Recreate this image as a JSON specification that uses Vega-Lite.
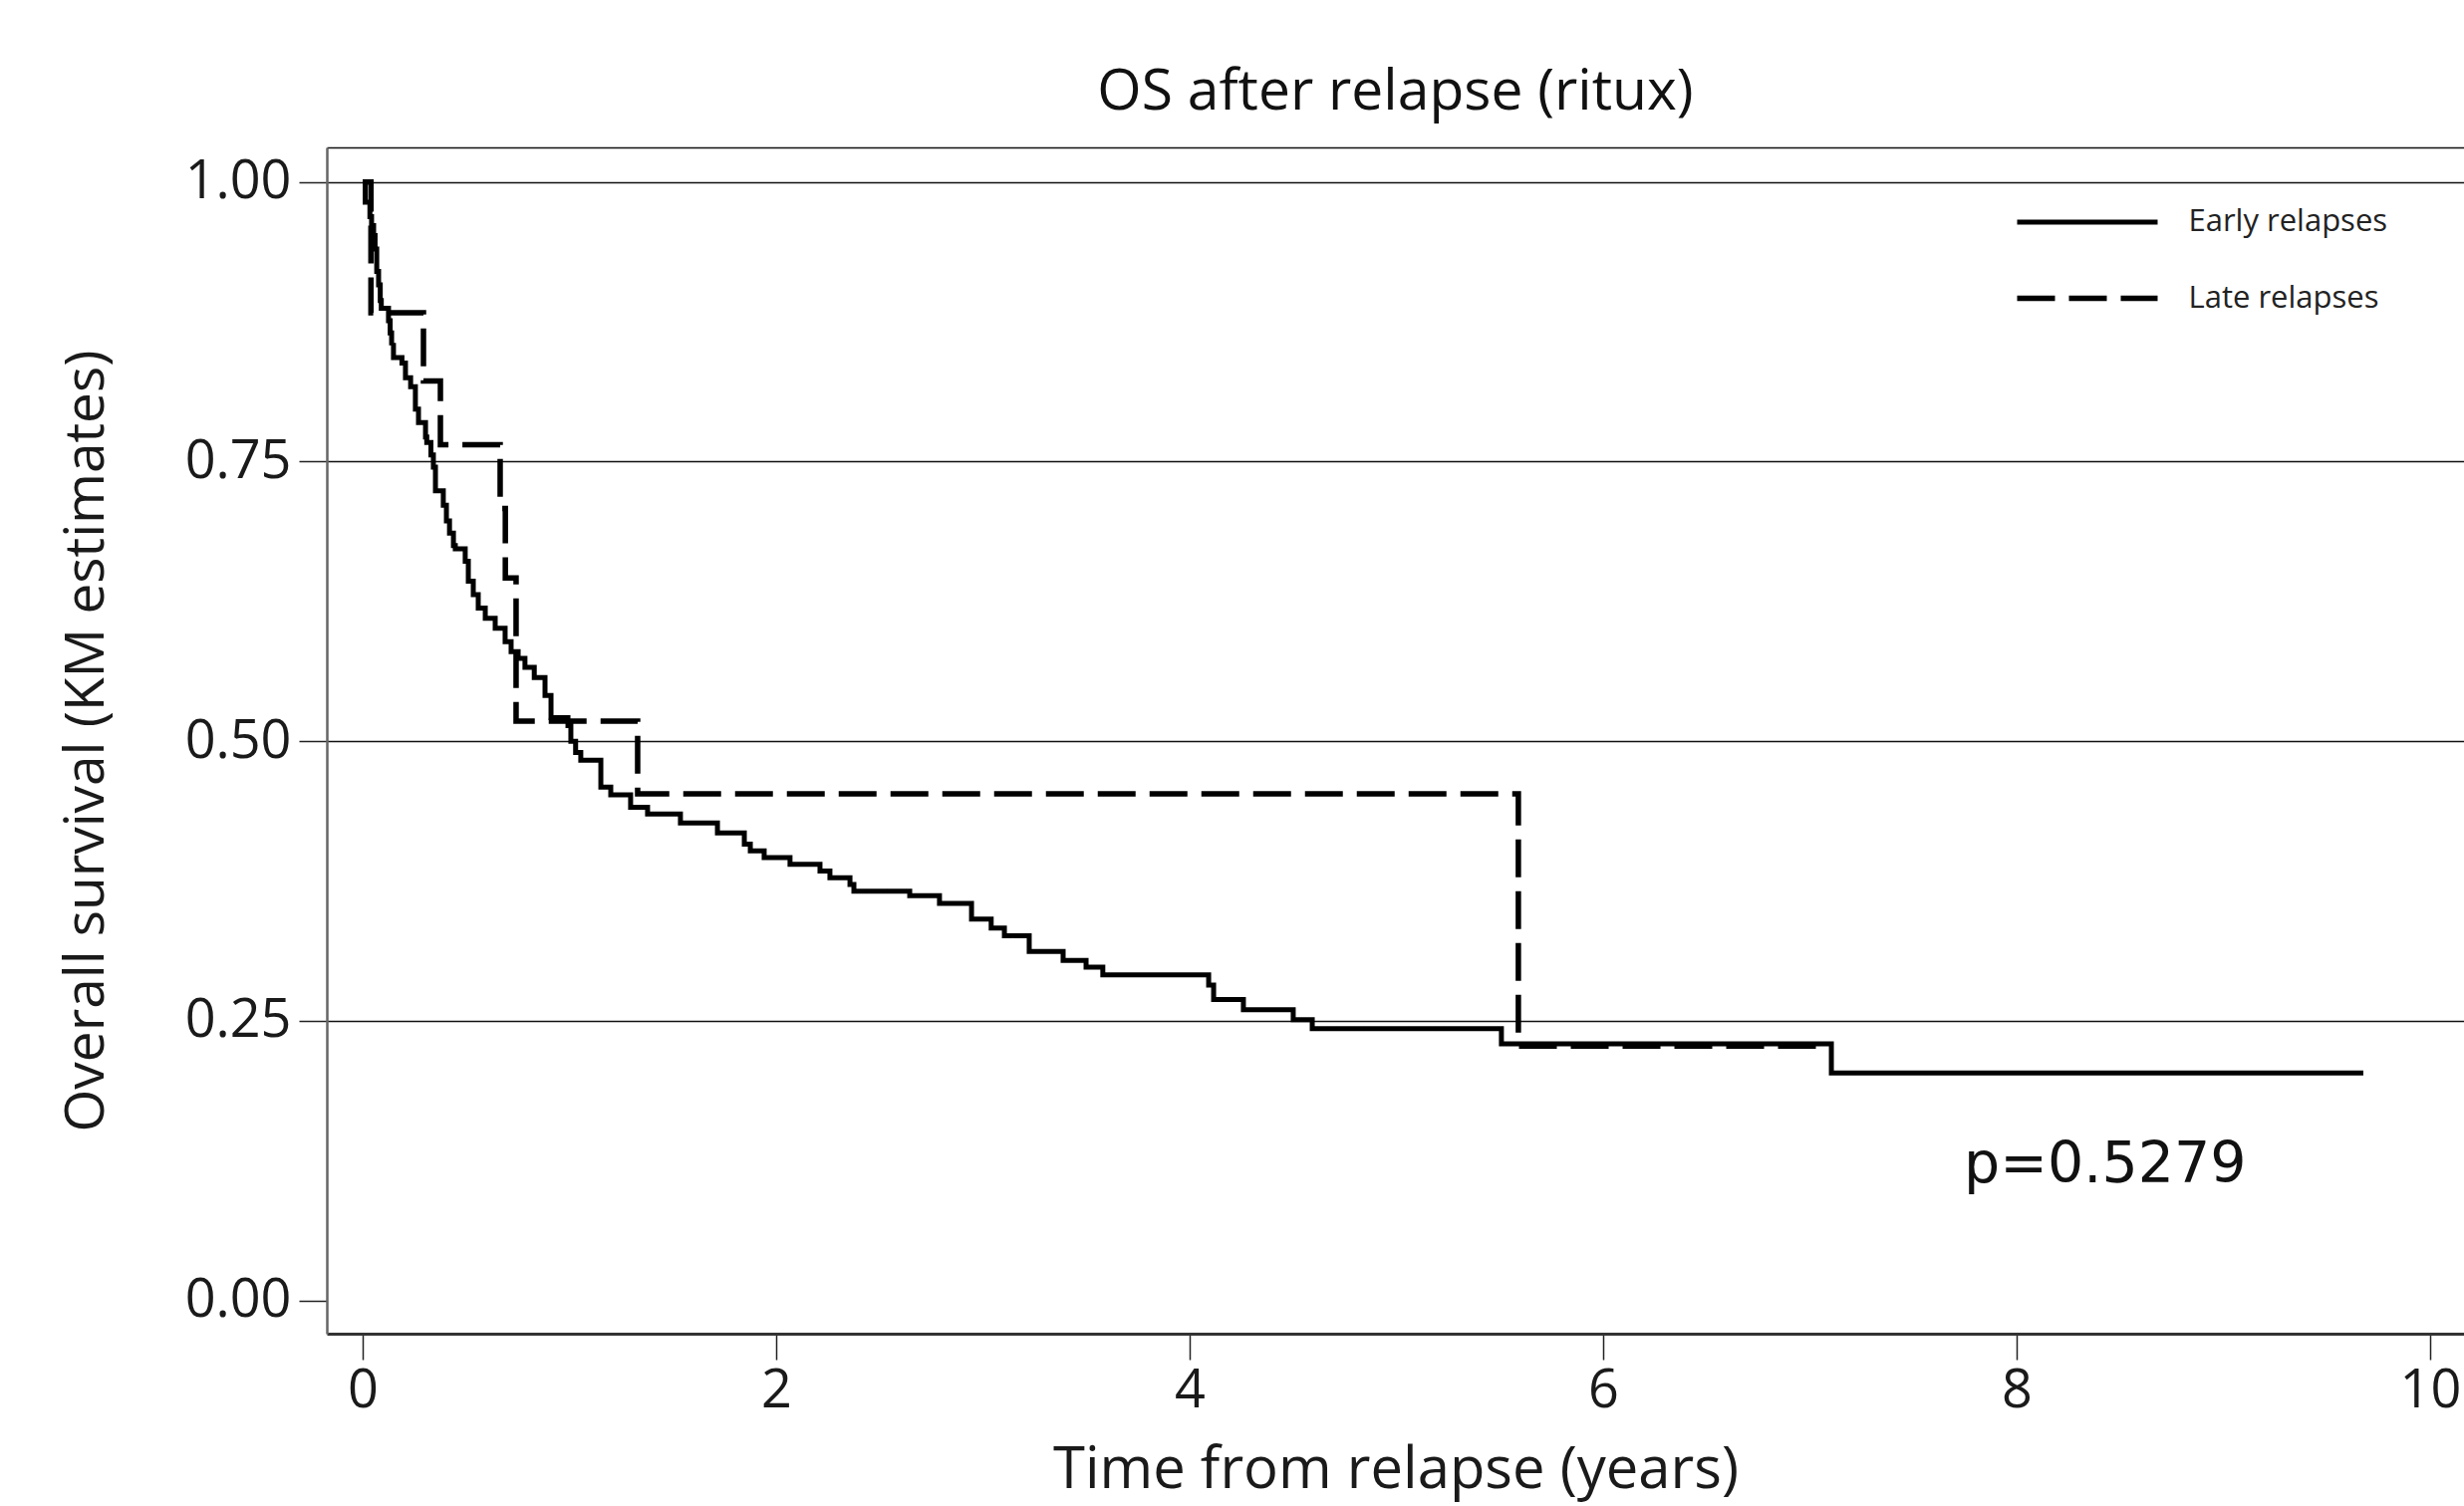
{
  "$schema": "https://vega.github.io/schema/vega-lite/v6.json",
  "width": 2145,
  "height": 1191,
  "autosize": {"type": "none"},
  "padding": {"left": 328, "top": 148, "right": 0, "bottom": 173},
  "background": "white",
  "title": {"text": "OS after relapse (ritux)", "font": "Open Sans", "fontSize": 57, "fontWeight": "normal", "color": "#111", "offset": 26, "anchor": "middle"},
  "config": {
    "view": {"stroke": null},
    "font": "Open Sans",
    "axis": {"labelFont": "Open Sans", "titleFont": "Open Sans", "labelColor": "#1a1a1a", "titleColor": "#1a1a1a", "titleFontWeight": "normal", "tickColor": "#222", "tickWidth": 1.5, "domainColor": "#333"},
    "axisLeft": {"labelFontSize": 54, "titleFontSize": 55, "tickSize": 28, "labelPadding": 8, "titlePadding": 70, "domainWidth": 2.5, "domainColor": "#666", "gridColor": "#111", "gridWidth": 1.6},
    "axisBottom": {"labelFontSize": 54, "titleFontSize": 58, "tickSize": 26, "labelPadding": 4, "titlePadding": 24, "domainWidth": 3, "grid": false},
    "axisTop": {"labels": false, "ticks": false, "domainWidth": 1.5, "domainColor": "#111", "grid": false}
  },
  "datasets": {
    "km": [
      {"group": "Early relapses", "t": 0, "S": 1.0},
      {"group": "Early relapses", "t": 0.012, "S": 0.982},
      {"group": "Early relapses", "t": 0.035, "S": 0.969},
      {"group": "Early relapses", "t": 0.043, "S": 0.961},
      {"group": "Early relapses", "t": 0.053, "S": 0.952},
      {"group": "Early relapses", "t": 0.06, "S": 0.94},
      {"group": "Early relapses", "t": 0.068, "S": 0.92},
      {"group": "Early relapses", "t": 0.077, "S": 0.908},
      {"group": "Early relapses", "t": 0.085, "S": 0.894},
      {"group": "Early relapses", "t": 0.09, "S": 0.887},
      {"group": "Early relapses", "t": 0.125, "S": 0.876},
      {"group": "Early relapses", "t": 0.133, "S": 0.865},
      {"group": "Early relapses", "t": 0.14, "S": 0.854},
      {"group": "Early relapses", "t": 0.149, "S": 0.843},
      {"group": "Early relapses", "t": 0.19, "S": 0.838},
      {"group": "Early relapses", "t": 0.207, "S": 0.825},
      {"group": "Early relapses", "t": 0.232, "S": 0.817},
      {"group": "Early relapses", "t": 0.255, "S": 0.797},
      {"group": "Early relapses", "t": 0.27, "S": 0.785},
      {"group": "Early relapses", "t": 0.304, "S": 0.772},
      {"group": "Early relapses", "t": 0.31, "S": 0.767},
      {"group": "Early relapses", "t": 0.33, "S": 0.756},
      {"group": "Early relapses", "t": 0.342, "S": 0.745},
      {"group": "Early relapses", "t": 0.352, "S": 0.724},
      {"group": "Early relapses", "t": 0.39, "S": 0.711},
      {"group": "Early relapses", "t": 0.405, "S": 0.697},
      {"group": "Early relapses", "t": 0.42, "S": 0.686},
      {"group": "Early relapses", "t": 0.439, "S": 0.675},
      {"group": "Early relapses", "t": 0.448, "S": 0.672},
      {"group": "Early relapses", "t": 0.496, "S": 0.661},
      {"group": "Early relapses", "t": 0.511, "S": 0.643},
      {"group": "Early relapses", "t": 0.535, "S": 0.631},
      {"group": "Early relapses", "t": 0.559, "S": 0.619},
      {"group": "Early relapses", "t": 0.593, "S": 0.61},
      {"group": "Early relapses", "t": 0.641, "S": 0.601},
      {"group": "Early relapses", "t": 0.689, "S": 0.589},
      {"group": "Early relapses", "t": 0.718, "S": 0.58},
      {"group": "Early relapses", "t": 0.752, "S": 0.574},
      {"group": "Early relapses", "t": 0.785, "S": 0.566},
      {"group": "Early relapses", "t": 0.83, "S": 0.557},
      {"group": "Early relapses", "t": 0.882, "S": 0.541},
      {"group": "Early relapses", "t": 0.911, "S": 0.521},
      {"group": "Early relapses", "t": 0.993, "S": 0.514},
      {"group": "Early relapses", "t": 1.007, "S": 0.5},
      {"group": "Early relapses", "t": 1.03, "S": 0.49},
      {"group": "Early relapses", "t": 1.055, "S": 0.483},
      {"group": "Early relapses", "t": 1.152, "S": 0.459},
      {"group": "Early relapses", "t": 1.2, "S": 0.452},
      {"group": "Early relapses", "t": 1.296, "S": 0.441},
      {"group": "Early relapses", "t": 1.378, "S": 0.435},
      {"group": "Early relapses", "t": 1.537, "S": 0.427},
      {"group": "Early relapses", "t": 1.716, "S": 0.418},
      {"group": "Early relapses", "t": 1.846, "S": 0.408},
      {"group": "Early relapses", "t": 1.875, "S": 0.402},
      {"group": "Early relapses", "t": 1.942, "S": 0.396},
      {"group": "Early relapses", "t": 2.067, "S": 0.39},
      {"group": "Early relapses", "t": 2.212, "S": 0.384},
      {"group": "Early relapses", "t": 2.26, "S": 0.378},
      {"group": "Early relapses", "t": 2.357, "S": 0.372},
      {"group": "Early relapses", "t": 2.376, "S": 0.366},
      {"group": "Early relapses", "t": 2.646, "S": 0.362},
      {"group": "Early relapses", "t": 2.79, "S": 0.355},
      {"group": "Early relapses", "t": 2.945, "S": 0.341},
      {"group": "Early relapses", "t": 3.04, "S": 0.333},
      {"group": "Early relapses", "t": 3.104, "S": 0.326},
      {"group": "Early relapses", "t": 3.224, "S": 0.312},
      {"group": "Early relapses", "t": 3.388, "S": 0.304},
      {"group": "Early relapses", "t": 3.499, "S": 0.298},
      {"group": "Early relapses", "t": 3.58, "S": 0.291},
      {"group": "Early relapses", "t": 4.092, "S": 0.282},
      {"group": "Early relapses", "t": 4.116, "S": 0.269},
      {"group": "Early relapses", "t": 4.26, "S": 0.26},
      {"group": "Early relapses", "t": 4.501, "S": 0.251},
      {"group": "Early relapses", "t": 4.593, "S": 0.243},
      {"group": "Early relapses", "t": 5.508, "S": 0.2295},
      {"group": "Early relapses", "t": 7.104, "S": 0.2035},
      {"group": "Early relapses", "t": 9.677, "S": 0.2035},
      {"group": "Late relapses", "t": 0, "S": 1.0},
      {"group": "Late relapses", "t": 0.04, "S": 0.883},
      {"group": "Late relapses", "t": 0.294, "S": 0.822},
      {"group": "Late relapses", "t": 0.376, "S": 0.765},
      {"group": "Late relapses", "t": 0.665, "S": 0.708},
      {"group": "Late relapses", "t": 0.69, "S": 0.646},
      {"group": "Late relapses", "t": 0.742, "S": 0.518},
      {"group": "Late relapses", "t": 1.33, "S": 0.453},
      {"group": "Late relapses", "t": 5.59, "S": 0.2275},
      {"group": "Late relapses", "t": 7.1, "S": 0.2275}
    ],
    "annot": [{"label": "p=0.5279"}]
  },
  "layer": [
    {
      "data": {"name": "km"},
      "mark": {"type": "line", "interpolate": "step-after", "color": "#000"},
      "encoding": {
        "x": {"field": "t", "type": "quantitative", "scale": {"domain": [-0.1735, 10.164], "nice": false, "zero": false},
          "axis": {"orient": "bottom", "values": [0, 2, 4, 6, 8, 10], "format": "d", "title": "Time from relapse (years)", "grid": false}},
        "y": {"field": "S", "type": "quantitative", "scale": {"domain": [-0.0297, 1.0309], "nice": false, "zero": false},
          "axis": {"orient": "left", "values": [0, 0.25, 0.5, 0.75, 1], "format": ".2f", "title": "Overall survival (KM estimates)", "grid": true,
            "gridOpacity": {"condition": {"test": "datum.value === 0", "value": 0}, "value": 1}}},
        "strokeDash": {"field": "group", "type": "nominal",
          "scale": {"domain": ["Early relapses", "Late relapses"], "range": [[1, 0], [38, 14]]},
          "legend": {"title": null, "orient": "none", "legendX": 1729, "legendY": 37, "symbolType": "M-2,0H2", "symbolSize": 4970,
            "symbolStrokeWidth": 6, "symbolStrokeColor": "#000", "labelFont": "Open Sans", "labelFontSize": 31, "labelColor": "#222",
            "labelOffset": 63.5, "rowPadding": 23.5, "padding": 0, "labelLimit": 400}},
        "strokeWidth": {"field": "group", "type": "nominal",
          "scale": {"domain": ["Early relapses", "Late relapses"], "range": [5, 5.5]}, "legend": null}
      }
    },
    {
      "data": {"name": "annot"},
      "mark": {"type": "text", "align": "left", "baseline": "alphabetic", "font": "DejaVu Sans", "fontSize": 57, "color": "#111"},
      "encoding": {
        "x": {"datum": 7.745, "type": "quantitative", "axis": {"orient": "top", "labels": false, "ticks": false, "title": null, "grid": false}},
        "y": {"datum": 0.1057, "type": "quantitative"},
        "text": {"field": "label"}
      }
    }
  ],
  "resolve": {"axis": {"x": "independent"}}
}
